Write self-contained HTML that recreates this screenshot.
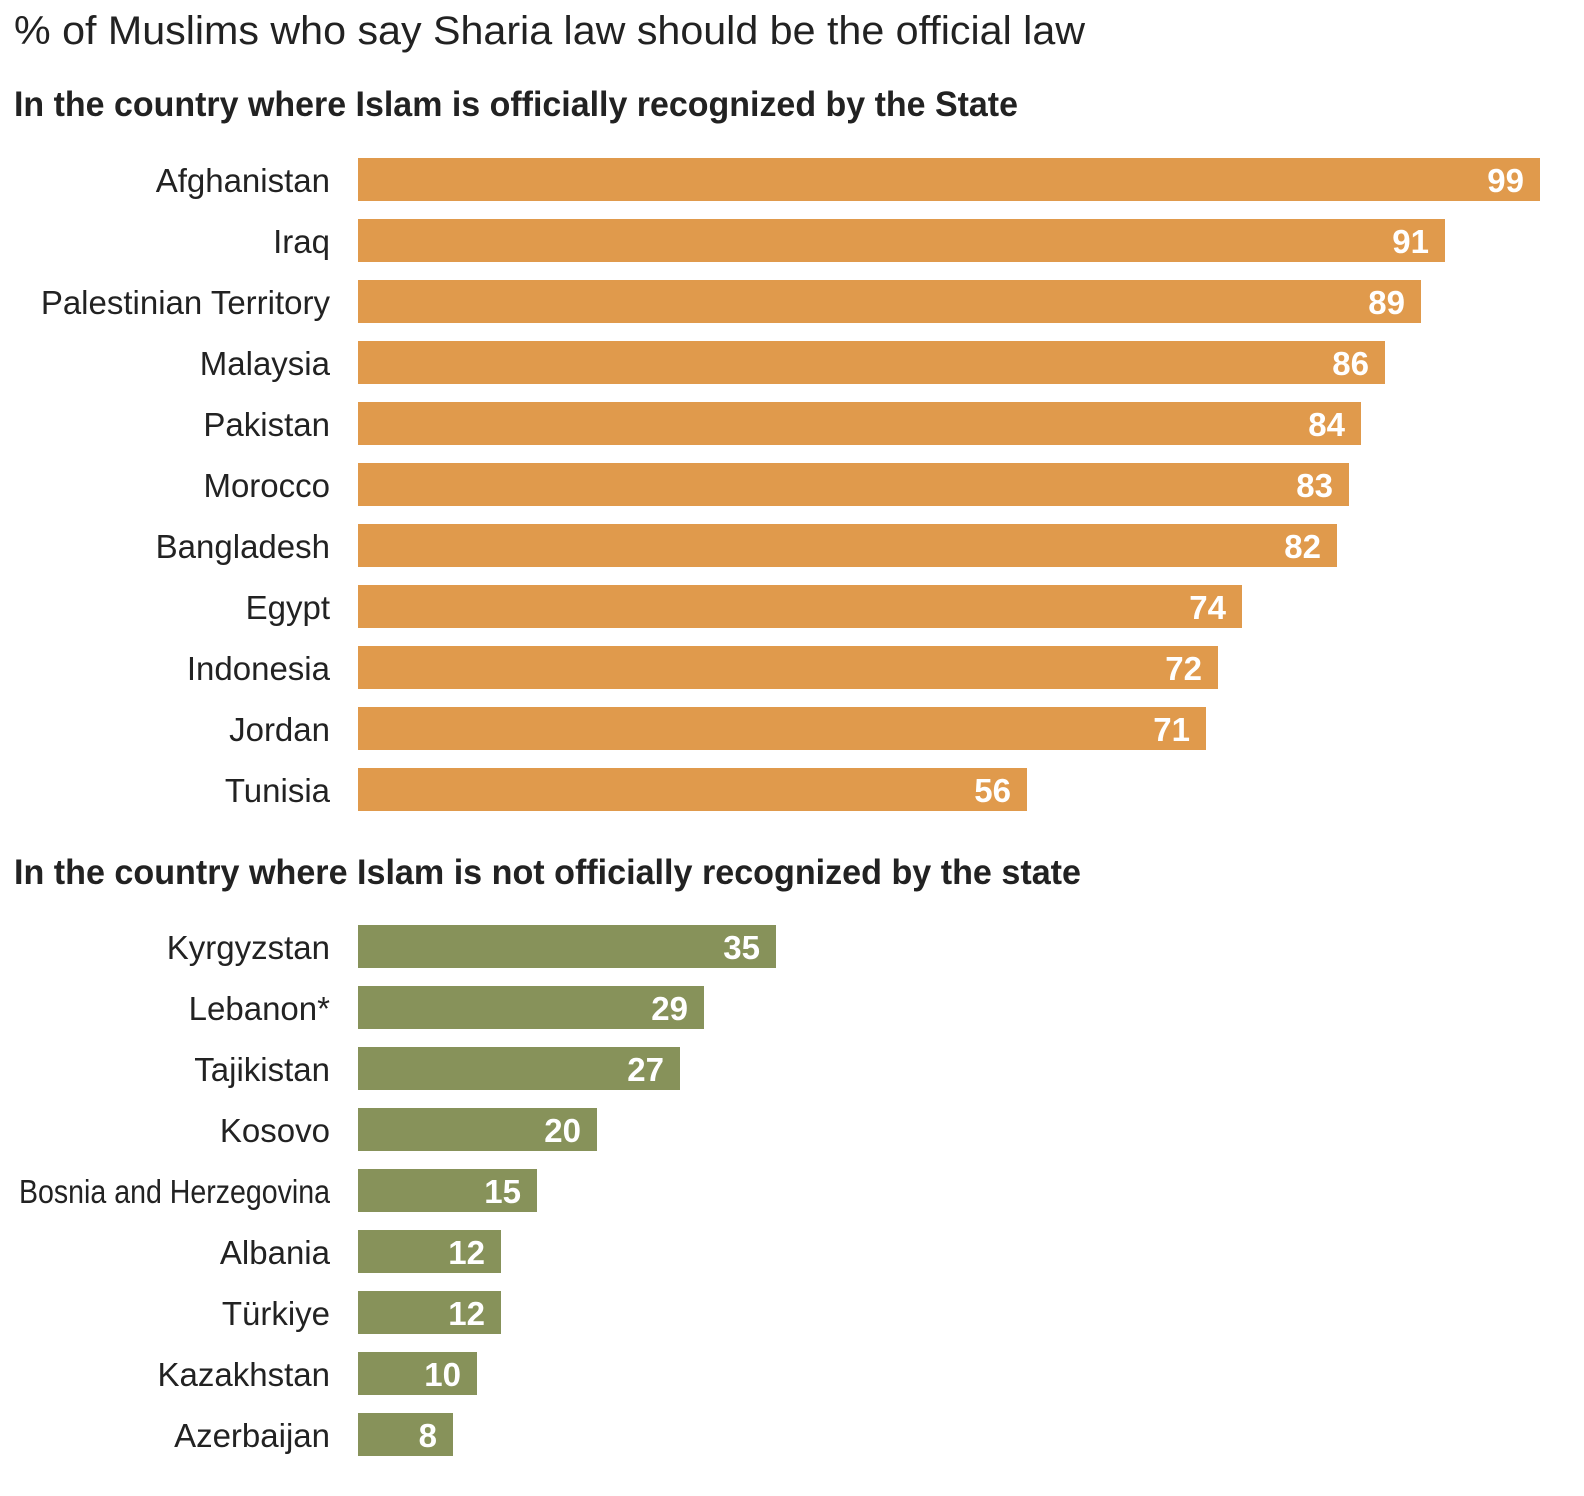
<!DOCTYPE html>
<html><head><meta charset="utf-8"><style>
html,body{margin:0;padding:0;background:#fff;}
svg{display:block;}
text{font-family:"Liberation Sans Narrow","Liberation Sans",sans-serif;}
</style></head><body>
<svg width="1584" height="1496" viewBox="0 0 1584 1496" xmlns="http://www.w3.org/2000/svg">
<rect width="1584" height="1496" fill="#fff"/>
<text x="14" y="44" font-size="40" fill="#222" textLength="1071" lengthAdjust="spacingAndGlyphs">% of Muslims who say Sharia law should be the official law</text>
<text x="14" y="116" font-size="35" font-weight="bold" fill="#222" textLength="1004" lengthAdjust="spacingAndGlyphs">In the country where Islam is officially recognized by the State</text>
<text x="14" y="884" font-size="35" font-weight="bold" fill="#222" textLength="1067" lengthAdjust="spacingAndGlyphs">In the country where Islam is not officially recognized by the state</text>
<g id="bars"></g>
<g font-size="33" fill="#222" text-anchor="end">
<text x="330" y="192">Afghanistan</text>
<text x="330" y="253">Iraq</text>
<text x="330" y="314">Palestinian Territory</text>
<text x="330" y="375">Malaysia</text>
<text x="330" y="436">Pakistan</text>
<text x="330" y="497">Morocco</text>
<text x="330" y="558">Bangladesh</text>
<text x="330" y="619">Egypt</text>
<text x="330" y="680">Indonesia</text>
<text x="330" y="741">Jordan</text>
<text x="330" y="802">Tunisia</text>
<text x="330" y="959">Kyrgyzstan</text>
<text x="330" y="1020">Lebanon*</text>
<text x="330" y="1081">Tajikistan</text>
<text x="330" y="1142">Kosovo</text>
<text x="330" y="1203" textLength="311" lengthAdjust="spacingAndGlyphs">Bosnia and Herzegovina</text>
<text x="330" y="1264">Albania</text>
<text x="330" y="1325">Türkiye</text>
<text x="330" y="1386">Kazakhstan</text>
<text x="330" y="1447">Azerbaijan</text>
</g>
<g fill="#E09A4C">
<rect x="358" y="158" width="1182" height="43"/>
<rect x="358" y="219" width="1087" height="43"/>
<rect x="358" y="280" width="1063" height="43"/>
<rect x="358" y="341" width="1027" height="43"/>
<rect x="358" y="402" width="1003" height="43"/>
<rect x="358" y="463" width="991" height="43"/>
<rect x="358" y="524" width="979" height="43"/>
<rect x="358" y="585" width="884" height="43"/>
<rect x="358" y="646" width="860" height="43"/>
<rect x="358" y="707" width="848" height="43"/>
<rect x="358" y="768" width="669" height="43"/>
</g>
<g fill="#87925A">
<rect x="358" y="925" width="418" height="43"/>
<rect x="358" y="986" width="346" height="43"/>
<rect x="358" y="1047" width="322" height="43"/>
<rect x="358" y="1108" width="239" height="43"/>
<rect x="358" y="1169" width="179" height="43"/>
<rect x="358" y="1230" width="143" height="43"/>
<rect x="358" y="1291" width="143" height="43"/>
<rect x="358" y="1352" width="119" height="43"/>
<rect x="358" y="1413" width="95" height="43"/>
</g>
<g font-size="33" font-weight="bold" fill="#fff" text-anchor="end">
<text x="1524" y="192">99</text>
<text x="1429" y="253">91</text>
<text x="1405" y="314">89</text>
<text x="1369" y="375">86</text>
<text x="1345" y="436">84</text>
<text x="1333" y="497">83</text>
<text x="1321" y="558">82</text>
<text x="1226" y="619">74</text>
<text x="1202" y="680">72</text>
<text x="1190" y="741">71</text>
<text x="1011" y="802">56</text>
<text x="760" y="959">35</text>
<text x="688" y="1020">29</text>
<text x="664" y="1081">27</text>
<text x="581" y="1142">20</text>
<text x="521" y="1203">15</text>
<text x="485" y="1264">12</text>
<text x="485" y="1325">12</text>
<text x="461" y="1386">10</text>
<text x="437" y="1447">8</text>
</g>
</svg>
</body></html>
